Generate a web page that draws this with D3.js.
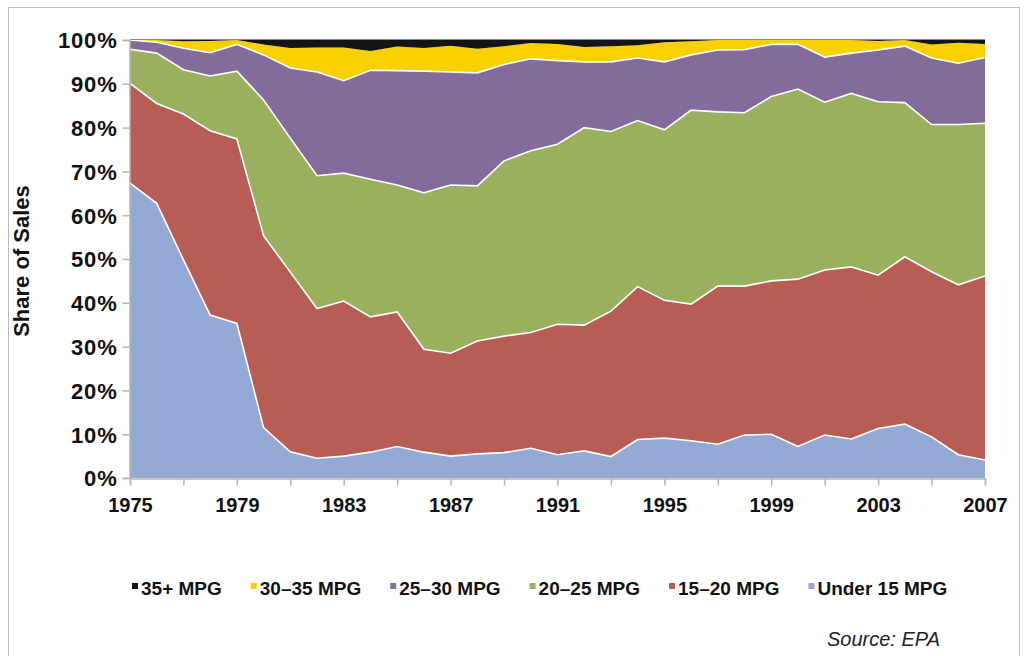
<!DOCTYPE html>
<html>
<head>
<meta charset="utf-8">
<script src="https://cdn.jsdelivr.net/npm/d3@7"></script>
<style>
  body { margin: 0; background: #fff; }
  svg text { font-family: "Liberation Sans", Arial, sans-serif; }
</style>
</head>
<body>
<svg id="chart" width="1028" height="656"></svg>
<script>
// share of sales by fuel economy class, percent, 1975-2007
var years = d3.range(1975, 2008);

var under15 = [67.3, 62.7, 49.8, 37.2, 35.3, 11.5, 6.0, 4.5, 5.0, 5.9, 7.2, 5.9, 5.0, 5.5, 5.8, 6.8, 5.3,
               6.2, 4.9, 8.8, 9.1, 8.5, 7.7, 9.8, 10.0, 7.2, 9.8, 8.9, 11.3, 12.3, 9.4, 5.3, 4.1];
var mpg15to20 = [22.8, 22.8, 33.3, 42.1, 42.1, 43.8, 41.0, 34.2, 35.4, 30.9, 30.7, 23.5, 23.5, 25.8, 26.6, 26.4, 29.8,
                 28.7, 33.2, 34.9, 31.5, 31.2, 36.1, 34.0, 35.0, 38.2, 37.7, 39.3, 35.0, 38.2, 37.7, 38.8, 42.0];
var mpg20to25 = [7.8, 11.5, 10.1, 12.5, 15.5, 31.0, 30.6, 30.3, 29.2, 31.4, 29.0, 35.7, 38.4, 35.4, 40.0, 41.5, 41.1,
                 45.1, 41.0, 37.9, 38.9, 44.3, 39.8, 39.6, 42.1, 43.4, 38.3, 39.6, 39.6, 35.2, 33.6, 36.6, 34.9];
var mpg25to30 = [2.1, 2.5, 4.9, 5.3, 6.1, 10.3, 16.0, 23.7, 21.1, 24.9, 26.1, 27.8, 25.8, 25.8, 22.0, 21.0, 19.1,
                 15.0, 15.9, 14.3, 15.5, 12.6, 14.1, 14.4, 11.9, 10.2, 10.3, 9.2, 11.8, 12.9, 15.2, 14.0, 15.0];
var mpg30to35 = [0, 0.5, 1.6, 2.7, 1.0, 2.4, 4.6, 5.6, 7.6, 4.4, 5.5, 5.3, 6.0, 5.5, 4.2, 3.6, 3.8,
                 3.4, 3.6, 2.9, 4.5, 3.1, 2.3, 2.2, 1.0, 1.0, 3.9, 3.0, 2.1, 1.4, 3.1, 4.7, 3.1];
var mpg35plus = [0, 0, 0.3, 0.2, 0, 1.0, 1.8, 1.7, 1.7, 2.5, 1.5, 1.8, 1.3, 2.0, 1.4, 0.7, 0.9,
                 1.6, 1.4, 1.2, 0.5, 0.3, 0, 0, 0, 0, 0, 0, 0.2, 0, 1.0, 0.6, 0.9];

// bottom to top
var seriesNames = ["Under 15 MPG", "15\u201320 MPG", "20\u201325 MPG", "25\u201330 MPG", "30\u201335 MPG", "35+ MPG"];
var seriesColors = ["#94a9d3", "#b75d56", "#9bb05e", "#836b9b", "#f9d000", "#141414"];
var yTicks = [0, 10, 20, 30, 40, 50, 60, 70, 80, 90, 100];
var xLabelYears = [1975, 1979, 1983, 1987, 1991, 1995, 1999, 2003, 2007];

var allSeries = [under15, mpg15to20, mpg20to25, mpg25to30, mpg30to35, mpg35plus];

var rows = years.map(function (yr, i) {
    var r = { year: yr };
    seriesNames.forEach(function (n, k) { r[n] = allSeries[k][i]; });
    return r;
});

var svg = d3.select("#chart");

// outer frame
svg.append("rect")
    .attr("x", 8.5).attr("y", 7.5)
    .attr("width", 1011).attr("height", 670)
    .attr("fill", "none")
    .attr("stroke", "#bdbdbd")
    .attr("stroke-width", 1);

var margin = { left: 130, top: 40, right: 985, bottom: 478 };

var x = d3.scaleLinear().domain([1975, 2007]).range([margin.left, margin.right]);
var y = d3.scaleLinear().domain([0, 100]).range([margin.bottom, margin.top]);

var stack = d3.stack().keys(seriesNames);
var layers = stack(rows);

var area = d3.area()
    .x(function (d) { return x(d.data.year); })
    .y0(function (d) { return y(d[0]); })
    .y1(function (d) { return y(d[1]); });

var line = d3.line()
    .x(function (d) { return x(d.data.year); })
    .y(function (d) { return y(d[1]); });

svg.append("g").selectAll("path")
    .data(layers)
    .enter().append("path")
    .attr("d", area)
    .attr("fill", function (d, i) { return seriesColors[i]; });

// white separators along the top of each band (not the topmost one)
svg.append("g").selectAll("path")
    .data(layers.slice(0, 4))
    .enter().append("path")
    .attr("d", line)
    .attr("fill", "none")
    .attr("stroke", "#fff")
    .attr("stroke-width", 1.6);

// top edge
svg.append("line")
    .attr("x1", x(1975)).attr("x2", x(2007))
    .attr("y1", y(100) - 0.5).attr("y2", y(100) - 0.5)
    .attr("stroke", "#8a8a8a").attr("stroke-width", 1);

// y axis
var yAxis = d3.axisLeft(y)
    .tickValues(yTicks)
    .tickSize(7)
    .tickPadding(5)
    .tickFormat(function (d) { return d + "%"; });

var gy = svg.append("g")
    .attr("transform", "translate(" + (margin.left - 0.5) + ",0)")
    .call(yAxis);
gy.select(".domain").attr("stroke", "#b5b5b5").attr("stroke-width", 1.5);
gy.selectAll(".tick line").attr("stroke", "#b5b5b5").attr("stroke-width", 1.5);
gy.selectAll(".tick text")
    .attr("fill", "#111")
    .attr("dy", "0.36em")
    .style("font-size", "22px")
    .style("font-weight", "bold")
    .style("letter-spacing", "0.8px");

// x axis, ticks every 2 years, labels every 4
var xAxis = d3.axisBottom(x)
    .tickValues(d3.range(1975, 2008, 2))
    .tickSize(7)
    .tickPadding(12)
    .tickFormat(function (d) { return xLabelYears.indexOf(d) >= 0 ? d : ""; });

var gx = svg.append("g")
    .attr("transform", "translate(0," + (margin.bottom + 0.5) + ")")
    .call(xAxis);
gx.select(".domain").attr("stroke", "#b5b5b5").attr("stroke-width", 1.5);
gx.selectAll(".tick line").attr("stroke", "#b5b5b5").attr("stroke-width", 1.5);
gx.selectAll(".tick text")
    .attr("fill", "#111")
    .style("font-size", "20px")
    .style("font-weight", "bold");

// y title
svg.append("text")
    .attr("transform", "translate(29," + ((margin.top + margin.bottom) / 2 + 2) + ") rotate(-90)")
    .attr("text-anchor", "middle")
    .attr("fill", "#111")
    .style("font-size", "22px")
    .style("font-weight", "bold")
    .text("Share of Sales");

// legend, top series first
var legendOrder = [5, 4, 3, 2, 1, 0];
var legend = svg.append("g").attr("transform", "translate(0,595)");
var lx = 132;
legendOrder.forEach(function (k) {
    var item = legend.append("g").attr("transform", "translate(" + lx + ",0)");
    item.append("rect")
        .attr("x", 0).attr("y", -12)
        .attr("width", 6).attr("height", 6)
        .attr("fill", seriesColors[k]);
    var t = item.append("text")
        .attr("x", 9)
        .attr("fill", "#111")
        .style("font-size", "19px")
        .style("font-weight", "bold")
        .text(seriesNames[k]);
    lx += 9 + t.node().getComputedTextLength() + 29;
});

svg.append("text")
    .attr("x", 940).attr("y", 646)
    .attr("text-anchor", "end")
    .attr("fill", "#222")
    .style("font-size", "20px")
    .style("font-style", "italic")
    .text("Source: EPA");
</script>
</body>
</html>
